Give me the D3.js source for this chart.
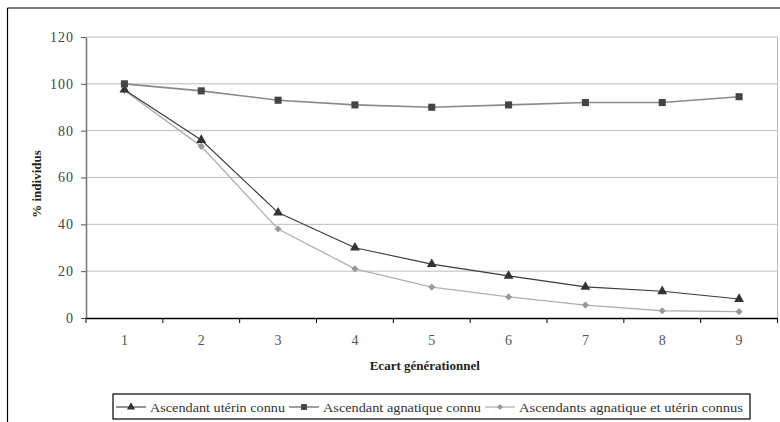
<!DOCTYPE html>
<html><head><meta charset="utf-8">
<script src="https://cdn.jsdelivr.net/npm/d3@7"></script>
<style>
html,body{margin:0;padding:0;background:#fff;}
svg{display:block;}
svg text{font-family:"Liberation Serif","Times New Roman","DejaVu Serif",serif;}
</style></head>
<body>
<svg id="chart" width="780" height="422"></svg>
<script>
const categories = ["1","2","3","4","5","6","7","8","9"];
const uterin   = [97.5, 76, 45, 30, 23, 18, 13.3, 11.4, 8.1];
const agnatique = [100, 97, 93, 91, 90, 91, 92, 92, 94.5];
const both     = [97.2, 73.3, 38, 21, 13.2, 9, 5.5, 3.1, 2.7];
const yTicks = [0, 20, 40, 60, 80, 100, 120];
const seriesNames = ["Ascendant utérin connu", "Ascendant agnatique connu", "Ascendants agnatique et utérin connus"];
const yTitle = "% individus";
const xTitle = "Ecart générationnel";

const svg = d3.select("#chart");
const L = 86, R = 777.5, T = 37, B = 318;

// outer frame
svg.append("line").attr("x1", 7.5).attr("x2", 780).attr("y1", 8).attr("y2", 8).attr("stroke", "#000").attr("stroke-width", 1.2);
svg.append("line").attr("x1", 7.5).attr("x2", 7.5).attr("y1", 8).attr("y2", 422).attr("stroke", "#000").attr("stroke-width", 1.2);

const x = d3.scaleBand().domain(categories).range([L, R]).padding(0);
const y = d3.scaleLinear().domain([0, 120]).range([B, T]);

// gridlines
svg.append("g").selectAll("line").data(yTicks.filter(d => d > 0)).join("line")
  .attr("x1", L).attr("x2", R).attr("y1", d => y(d)).attr("y2", d => y(d))
  .attr("stroke", "#bdbdbd").attr("stroke-width", 1);
svg.append("line").attr("x1", R).attr("x2", R).attr("y1", T).attr("y2", B).attr("stroke", "#bdbdbd");

// y axis
const yAxis = svg.append("g").attr("transform", `translate(${L},0)`)
  .call(d3.axisLeft(y).tickValues(yTicks).tickSize(5).tickPadding(7).tickSizeOuter(0));
yAxis.attr("font-family", null);
yAxis.select(".domain").attr("stroke", "#7a7a7a").attr("stroke-width", 1.6);
yAxis.selectAll(".tick line").attr("stroke", "#555");
yAxis.selectAll("text").attr("font-size", 14).attr("fill", "#444").attr("letter-spacing", 1);

// x axis (labels)
const xAxis = svg.append("g").attr("transform", `translate(0,${B})`)
  .call(d3.axisBottom(x).tickSize(0).tickPadding(17).tickSizeOuter(0));
xAxis.attr("font-family", null);
xAxis.select(".domain").attr("stroke", "#000").attr("stroke-width", 1.4);
xAxis.selectAll("text").attr("font-size", 14).attr("fill", "#555");
const bounds = categories.map(c => x(c)).concat([x(categories[categories.length - 1]) + x.bandwidth()]);
svg.append("g").selectAll("line").data(bounds).join("line")
  .attr("x1", d => d).attr("x2", d => d).attr("y1", B).attr("y2", B + 5)
  .attr("stroke", "#000").attr("stroke-width", 1);

// titles
svg.append("text").attr("transform", `translate(41,184) rotate(-90)`)
  .attr("text-anchor", "middle").attr("font-weight", "bold")
  .attr("font-size", 13).attr("fill", "#222").text(yTitle);
svg.append("text").attr("x", (L + R) / 2 - 7).attr("y", 370)
  .attr("text-anchor", "middle").attr("font-weight", "bold")
  .attr("font-size", 13).attr("fill", "#222").text(xTitle);

const cx = (d, i) => x(categories[i]) + x.bandwidth() / 2;
const line = d3.line().x((d, i) => cx(d, i)).y(d => y(d));

const diamond = { draw(ctx, size) { const r = Math.sqrt(size) / 2 * 1.3; ctx.moveTo(0, -r); ctx.lineTo(r, 0); ctx.lineTo(0, r); ctx.lineTo(-r, 0); ctx.closePath(); } };

const styles = [
  { data: uterin, line: "#3a3a3a", lw: 1.1, fill: "#333", shape: d3.symbolTriangle, size: 42 },
  { data: agnatique, line: "#8a8a8a", lw: 1.6, fill: "#444", shape: d3.symbolSquare, size: 50 },
  { data: both, line: "#b0b0b0", lw: 1.3, fill: "#999", shape: diamond, size: 30 }
];

[2, 0, 1].forEach(k => {
  const s = styles[k];
  svg.append("path").datum(s.data).attr("d", line)
    .attr("fill", "none").attr("stroke", s.line).attr("stroke-width", s.lw);
  svg.append("g").selectAll("path").data(s.data).join("path")
    .attr("transform", (d, i) => `translate(${cx(d, i)},${y(d)})`)
    .attr("d", d3.symbol().type(s.shape).size(s.size))
    .attr("fill", s.fill);
});

// legend
const leg = svg.append("g");
leg.append("rect").attr("x", 113).attr("y", 394).attr("width", 637).attr("height", 25)
  .attr("fill", "#fff").attr("stroke", "#000").attr("stroke-width", 1.2);
const itemSym = [[116, 146], [289, 319], [485, 515]];
const itemText = [150, 323, 519];
const itemLen = [135, 158, 224];
styles.forEach((s, k) => {
  const ly = 407;
  leg.append("line").attr("x1", itemSym[k][0]).attr("x2", itemSym[k][1]).attr("y1", ly).attr("y2", ly)
    .attr("stroke", s.line).attr("stroke-width", s.lw);
  leg.append("path").attr("transform", `translate(${(itemSym[k][0] + itemSym[k][1]) / 2},${ly})`)
    .attr("d", d3.symbol().type(s.shape).size(s.size * 0.7)).attr("fill", s.fill);
  leg.append("text").attr("x", itemText[k]).attr("y", ly + 4.5)
    .attr("font-size", 13).attr("fill", "#333")
    .attr("textLength", itemLen[k]).attr("lengthAdjust", "spacingAndGlyphs")
    .text(seriesNames[k]);
});
</script>
</body></html>
